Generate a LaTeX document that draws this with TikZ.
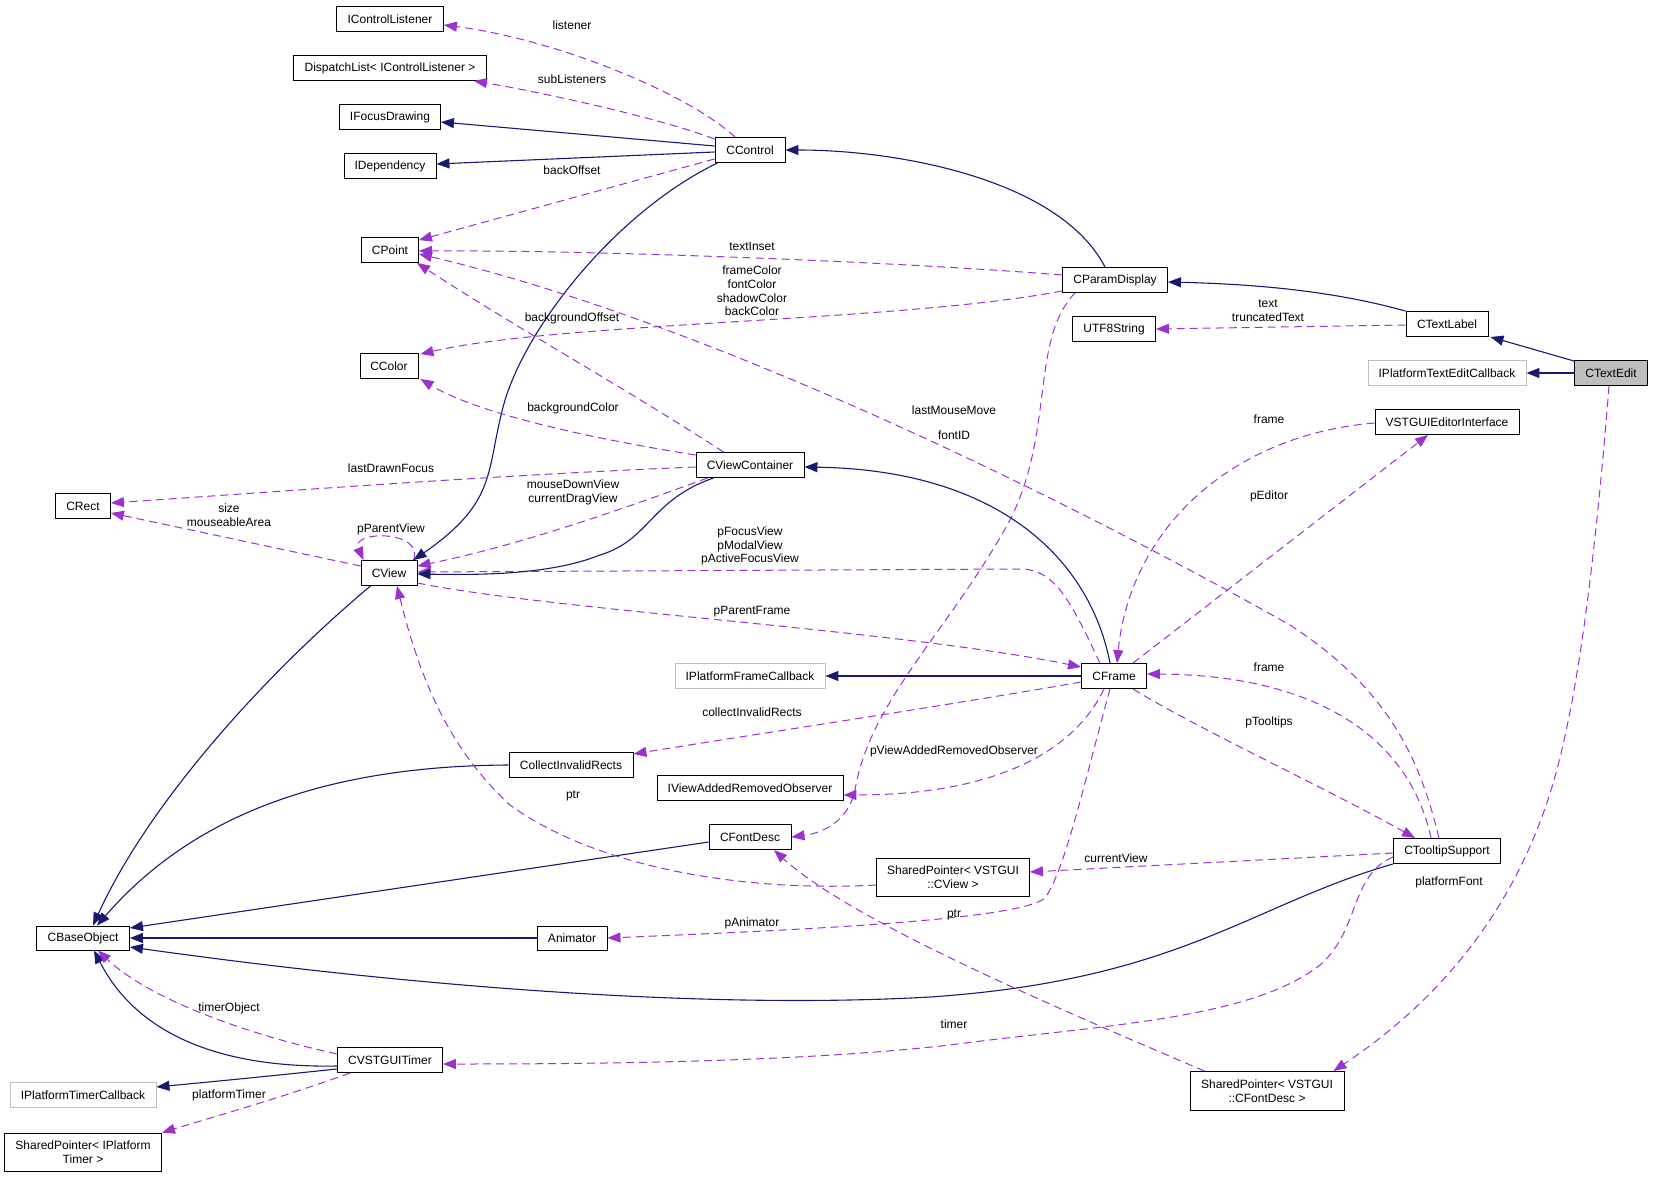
\documentclass[tikz,border=0pt]{standalone}
\usepackage{fontspec}
\setmainfont{Liberation Sans}
\usetikzlibrary{arrows.meta,calc}
\definecolor{navyc}{HTML}{191970}
\definecolor{purp}{HTML}{9A32CD}
\definecolor{grayb}{HTML}{BFBFBF}
\begin{document}
\begin{tikzpicture}[x=1pt,y=-1pt,
  cls/.style={draw=black, line width=0.9pt, fill=white, inner sep=0pt, align=center, font=\fontsize{12}{13.5}\selectfont},
  gcls/.style={cls, draw=grayb},
  inh/.style={draw=navyc, line width=1.1pt, -{Triangle[length=13pt,width=10pt]}},
  usee/.style={draw=purp, line width=1pt, dash pattern=on 8pt off 5pt, -{Triangle[length=13pt,width=10pt]}},
  lbl/.style={inner sep=0pt, align=center, font=\fontsize{12}{13.8}\selectfont}]
\useasboundingbox (0,0) rectangle (1653,1177);
% nodes
\node[cls, minimum width=107, minimum height=25] (icl) at (390,19) {IControlListener};
\node[cls, minimum width=193, minimum height=25] (dispatch) at (390,68) {DispatchList< IControlListener >};
\node[cls, minimum width=101, minimum height=25] (ifocus) at (390,117) {IFocusDrawing};
\node[cls, minimum width=92, minimum height=25] (idep) at (390,166) {IDependency};
\node[cls, minimum width=70, minimum height=25] (cctrl) at (750,150) {CControl};
\node[cls, minimum width=57, minimum height=25] (cpoint) at (390,250) {CPoint};
\node[cls, minimum width=58, minimum height=25] (ccolor) at (389,366) {CColor};
\node[cls, minimum width=108, minimum height=25] (cvc) at (750,465) {CViewContainer};
\node[cls, minimum width=55, minimum height=25] (crect) at (83,506) {CRect};
\node[cls, minimum width=56, minimum height=25] (cview) at (389,573) {CView};
\node[cls, minimum width=105, minimum height=25] (cparam) at (1115,280) {CParamDisplay};
\node[cls, minimum width=83, minimum height=25] (utf8) at (1114,329) {UTF8String};
\node[cls, minimum width=82, minimum height=25] (ctextlabel) at (1447,324) {CTextLabel};
\node[gcls, minimum width=158, minimum height=25] (iptec) at (1447,373) {IPlatformTextEditCallback};
\node[cls, fill=grayb, minimum width=73, minimum height=25] (ctextedit) at (1611,373) {CTextEdit};
\node[cls, minimum width=144, minimum height=25] (vstguiei) at (1447,422) {VSTGUIEditorInterface};
\node[cls, minimum width=65, minimum height=25] (cframe) at (1114,676) {CFrame};
\node[gcls, minimum width=150, minimum height=25] (ipfc) at (750,676) {IPlatformFrameCallback};
\node[cls, minimum width=124, minimum height=25] (cir) at (571,765) {CollectInvalidRects};
\node[cls, minimum width=186, minimum height=25] (ivaro) at (750,788) {IViewAddedRemovedObserver};
\node[cls, minimum width=82, minimum height=25] (cfontdesc) at (750,837) {CFontDesc};
\node[cls, minimum width=153, minimum height=38] (spcview) at (953,877) {SharedPointer< VSTGUI\\::CView >};
\node[cls, minimum width=107, minimum height=25] (ctooltip) at (1447,851) {CTooltipSupport};
\node[cls, minimum width=93, minimum height=24] (cbase) at (83,938) {CBaseObject};
\node[cls, minimum width=70, minimum height=24] (animator) at (572,938) {Animator};
\node[cls, minimum width=105, minimum height=25] (ctimer) at (390,1060) {CVSTGUITimer};
\node[gcls, minimum width=146, minimum height=25] (iptc) at (83,1095) {IPlatformTimerCallback};
\node[cls, minimum width=157, minimum height=38] (sptimer) at (83,1152) {SharedPointer< IPlatform\\Timer >};
\node[cls, minimum width=154, minimum height=39] (spfont) at (1267,1091) {SharedPointer< VSTGUI\\::CFontDesc >};
% edges
\draw[usee] ($(cctrl.north)+(-15,0)$) .. controls (690,95) and (560,40) .. ($(icl.east)+(0,6)$);
\draw[usee] ($(cctrl.north west)+(0,2)$) .. controls (660,118) and (540,92) .. ($(dispatch.south east)+(-13,0)$);
\draw[inh] ($(cctrl.west)+(0,-4)$) -- ($(ifocus.east)+(0,5)$);
\draw[inh] ($(cctrl.west)+(0,2)$) -- ($(idep.east)+(0,-2)$);
\draw[usee] ($(cctrl.south west)+(0,-4)$) -- ($(cpoint.north east)+(0,3)$);
\draw[inh] ($(cparam.north)+(-10,0)$) .. controls (1060,180) and (900,150) .. (cctrl.east);
\draw[usee] ($(cparam.west)+(0,-5)$) .. controls (900,262) and (600,250) .. ($(cpoint.east)+(0,1)$);
\draw[usee] ($(cparam.south west)+(0,-2)$) .. controls (900,322) and (560,322) .. ($(ccolor.north east)+(2,1)$);
\draw[usee] ($(cparam.south)+(-40,0)$) .. controls (1030,340) and (1055,430) .. (1010,520)
  .. controls (950,630) and (870,700) .. (855,790) .. controls (850,815) and (830,832) .. (cfontdesc.east);
\draw[inh] (ctextlabel.north west) .. controls (1330,290) and (1250,284) .. ($(cparam.east)+(0,2)$);
\draw[usee] ($(ctextlabel.west)+(0,1)$) -- (utf8.east);
\draw[inh] ($(ctextedit.north west)+(0,1)$) -- ($(ctextlabel.south east)+(2,0)$);
\draw[inh] (ctextedit.west) -- (iptec.east);
\draw[usee] ($(ctextedit.south)+(-2,0)$) .. controls (1600,500) and (1585,650) .. (1564,740)
  .. controls (1530,900) and (1440,1000) .. ($(spfont.north east)+(-11,0)$);
\draw[usee] ($(vstguiei.west)+(0,1)$) .. controls (1230,435) and (1130,530) .. ($(cframe.north)+(3,0)$);
\draw[usee] ($(cframe.north east)+(-14,0)$) -- ($(vstguiei.south)+(-19,0)$);
\draw[inh] ($(cframe.north)+(-4,0)$) .. controls (1090,560) and (1000,470) .. ($(cvc.east)+(0,2)$);
\draw[usee] ($(cframe.north)+(-14,0)$) .. controls (1070,600) and (1055,569) .. (1020,569) -- ($(cview.east)+(0,-1)$);
\draw[usee] ($(cview.south east)+(0,-3)$) .. controls (550,610) and (900,630) .. ($(cframe.west)+(0,-9)$);
\draw[usee] ($(cview.north east)+(-4,0)$) .. controls (425,530) and (350,530) .. ($(cview.north west)+(3,0)$);
\draw[inh] ($(cctrl.south west)+(3,0)$) .. controls (620,210) and (530,320) .. (505,400)
  .. controls (485,470) and (500,500) .. ($(cview.north east)+(-4,0)$);
\draw[inh] ($(cvc.south west)+(18,0)$) .. controls (650,500) and (650,540) .. (600,555)
  .. controls (550,575) and (480,575) .. ($(cview.east)+(0,1)$);
\draw[usee] ($(cvc.south west)+(12,0)$) .. controls (620,510) and (520,545) .. ($(cview.east)+(0,-7)$);
\draw[usee] ($(cvc.west)+(0,2)$) .. controls (500,475) and (300,490) .. ($(crect.east)+(0,-3)$);
\draw[usee] ($(cvc.west)+(0,-10)$) .. controls (600,440) and (480,415) .. ($(ccolor.south east)+(2,0)$);
\draw[usee] ($(cvc.north west)+(28,0)$) .. controls (620,385) and (520,330) .. ($(cpoint.south east)+(-2,0)$);
\draw[usee] ($(cview.west)+(0,-7)$) -- ($(crect.east)+(0,7)$);
\draw[inh] ($(cview.south west)+(10,0)$) .. controls (270,670) and (150,800) .. ($(cbase.north)+(10,0)$);
\draw[inh] (cir.west) .. controls (300,766) and (180,830) .. ($(cbase.north)+(14,0)$);
\draw[inh] ($(cfontdesc.west)+(0,5)$) -- ($(cbase.east)+(0,-10)$);
\draw[inh] (animator.west) -- (cbase.east);
\draw[inh] (ctooltip.south west) .. controls (1250,905) and (1180,980) .. (930,997)
  .. controls (700,1010) and (400,985) .. ($(cbase.east)+(0,9)$);
\draw[inh] ($(ctimer.west)+(0,6)$) .. controls (230,1068) and (140,1040) .. ($(cbase.south)+(11,0)$);
\draw[usee] ($(ctimer.west)+(0,-6)$) .. controls (250,1035) and (150,1000) .. ($(cbase.south)+(15,0)$);
\draw[inh] ($(ctimer.west)+(0,9)$) .. controls (250,1078) .. ($(iptc.east)+(0,-8)$);
\draw[usee] ($(ctimer.south west)+(13,0)$) .. controls (290,1095) and (220,1115) .. (sptimer.north east);
\draw[usee] ($(ctooltip.west)+(0,6)$) .. controls (1350,875) and (1360,930) .. (1320,965)
  .. controls (1250,1020) and (1100,1025) .. (950,1045) .. controls (800,1062) and (600,1064) .. ($(ctimer.east)+(0,4)$);
\draw[usee] ($(ctooltip.north)+(-16,0)$) .. controls (1410,740) and (1320,675) .. ($(cframe.east)+(0,-2)$);
\draw[usee] ($(cframe.south east)+(-14,0)$) .. controls (1200,730) and (1330,790) .. ($(ctooltip.north)+(-32,0)$);
\draw[usee] ($(ctooltip.north)+(-8,0)$) .. controls (1420,760) and (1390,690) .. (1290,625)
  .. controls (1050,490) and (700,320) .. ($(cpoint.east)+(0,4)$);
\draw[inh] (cframe.west) -- (ipfc.east);
\draw[usee] ($(cframe.west)+(0,6)$) .. controls (950,705) and (750,735) .. ($(cir.east)+(0,-11)$);
\draw[usee] ($(cframe.south)+(-10,0)$) .. controls (1070,760) and (980,795) .. ($(ivaro.east)+(0,7)$);
\draw[usee] ($(cframe.south)+(-4,0)$) .. controls (1085,780) and (1065,870) .. (1045,898)
  .. controls (1020,920) and (800,930) .. (animator.east);
\draw[usee] ($(ctooltip.west)+(0,2)$) -- ($(spcview.east)+(0,-5)$);
\draw[usee] ($(spcview.west)+(0,8)$) .. controls (750,892) and (600,870) .. (510,805)
  .. controls (450,750) and (420,680) .. ($(cview.south)+(8,0)$);
\draw[usee] ($(spfont.north west)+(15,0)$) .. controls (1050,1005) and (850,920) .. ($(cfontdesc.south)+(24,0)$);
% labels
\node[lbl] (l1) at (572,25) {listener};
\node[lbl] (l2) at (572,79) {subListeners};
\node[lbl] (l3) at (572,170) {backOffset};
\node[lbl] (l4) at (752,246) {textInset};
\node[lbl] (l5) at (752,291) {frameColor\\fontColor\\shadowColor\\backColor};
\node[lbl] (l6) at (572,318) {backgroundOffset};
\node[lbl] (l7) at (1268,311) {text\\truncatedText};
\node[lbl] (l8) at (573,408) {backgroundColor};
\node[lbl] (l9) at (954,410) {lastMouseMove};
\node[lbl] (l10) at (954,435) {fontID};
\node[lbl] (l11) at (1269,419) {frame};
\node[lbl] (l12) at (391,468) {lastDrawnFocus};
\node[lbl] (l13) at (573,492) {mouseDownView\\currentDragView};
\node[lbl] (l14) at (1269,496) {pEditor};
\node[lbl] (l15) at (229,515) {size\\mouseableArea};
\node[lbl] (l16) at (391,529) {pParentView};
\node[lbl] (l17) at (750,546) {pFocusView\\pModalView\\pActiveFocusView};
\node[lbl] (l18) at (752,612) {pParentFrame};
\node[lbl] (l19) at (1269,667) {frame};
\node[lbl] (l20) at (752,712) {collectInvalidRects};
\node[lbl] (l21) at (1269,722) {pTooltips};
\node[lbl] (l22) at (954,751) {pViewAddedRemovedObserver};
\node[lbl] (l23) at (573,796) {ptr};
\node[lbl] (l24) at (1116,858) {currentView};
\node[lbl] (l25) at (1449,882) {platformFont};
\node[lbl] (l26) at (954,915) {ptr};
\node[lbl] (l27) at (752,923) {pAnimator};
\node[lbl] (l28) at (229,1008) {timerObject};
\node[lbl] (l29) at (954,1024) {timer};
\node[lbl] (l30) at (229,1095) {platformTimer};
\end{tikzpicture}
\end{document}
